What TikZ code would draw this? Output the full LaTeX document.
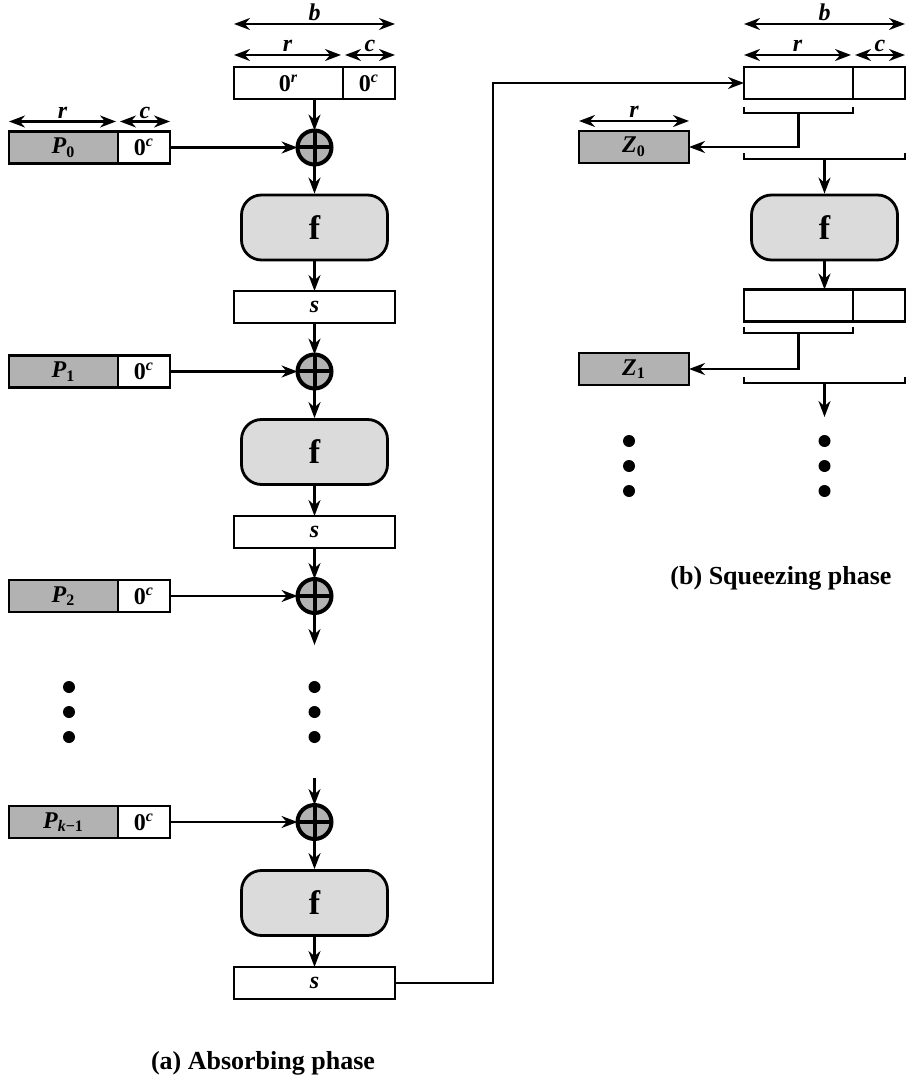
\documentclass[tikz,border=0pt]{standalone}
\usepackage{fontspec}
\setmainfont{Liberation Serif}
\usepackage{tikz}
\usetikzlibrary{arrows.meta,positioning}

\begin{document}
\begin{tikzpicture}[
  x=0.5pt,y=-0.5pt,
  >={Stealth[length=8pt,width=6pt]},line width=1.15pt,
  cell/.style={draw,line width=1.4pt,outer sep=0pt,inner sep=0pt,minimum height=16pt,font=\fontsize{12}{14}\selectfont\bfseries},
  msg/.style={cell,fill=black!30},
  rw/.style={minimum width=54.5pt},
  cw/.style={minimum width=26pt},
  sw/.style={minimum width=80.5pt},
  fbox/.style={draw,line width=1.4pt,rounded corners=10pt,fill=black!14,minimum width=73pt,minimum height=32.5pt,font=\fontsize{17}{20}\selectfont\bfseries},
  xor/.style={draw,circle,line width=2pt,outer sep=0pt,fill=black!30,minimum size=17pt,inner sep=0pt},
  dim/.style={<->,line width=1.1pt},
  lbl/.style={above,inner sep=1pt,font=\fontsize{12}{14}\selectfont\bfseries\itshape},
  dot/.style={circle,fill,inner sep=0pt,minimum size=6pt},
  caption/.style={font=\fontsize{13}{15}\selectfont\bfseries}]
\useasboundingbox (0,0) rectangle (914,1079);

\node[cell,rw] (ra) at (288.5,83) {0\textsuperscript{\itshape r}};
\node[cell,cw,right=0pt of ra] (ca) {0\textsuperscript{\itshape c}};
\draw[dim] ([yshift=21.5pt]ra.north west) -- node[lbl]{b} ([yshift=21.5pt]ca.north east);
\draw[dim] ([yshift=6pt]ra.north west) -- node[lbl]{r} ([xshift=-1pt,yshift=6pt]ra.north east);
\draw[dim] ([xshift=1pt,yshift=6pt]ca.north west) -- node[lbl]{c} ([yshift=6pt]ca.north east);

\node[msg,rw] (p0) at (63.5,147.5) {\textit{P}\textsubscript{0}};
\node[cell,cw,right=0pt of p0] (q0) {0\textsuperscript{\itshape c}};
\draw[dim] ([yshift=5pt]p0.north west) -- node[lbl]{r} ([xshift=-1pt,yshift=5pt]p0.north east);
\draw[dim] ([xshift=1pt,yshift=5pt]q0.north west) -- node[lbl]{c} ([yshift=5pt]q0.north east);
\node[xor] (x0) at (314.5,147.5) {};
\draw[line width=2pt] (x0.north)--(x0.south) (x0.west)--(x0.east);
\node[fbox] (f0) at (314.5,227.5) {f};
\node[cell,sw] (s0) at (314.5,307) {\itshape s};
\draw[->] (x0 |- ra.south) -- (x0.north);
\draw[->] (q0) -- (x0);
\draw[->] (x0) -- (f0);
\draw[->] (f0) -- (s0);

\node[msg,rw] (p1) at (63.5,371.5) {\textit{P}\textsubscript{1}};
\node[cell,cw,right=0pt of p1] (q1) {0\textsuperscript{\itshape c}};
\node[xor] (x1) at (314.5,371.5) {};
\draw[line width=2pt] (x1.north)--(x1.south) (x1.west)--(x1.east);
\node[fbox] (f1) at (314.5,452) {f};
\node[cell,sw] (s1) at (314.5,532) {\itshape s};
\draw[->] (s0) -- (x1);
\draw[->] (q1) -- (x1);
\draw[->] (x1) -- (f1);
\draw[->] (f1) -- (s1);

\node[msg,rw] (p2) at (63.5,596) {\textit{P}\textsubscript{2}};
\node[cell,cw,right=0pt of p2] (q2) {0\textsuperscript{\itshape c}};
\node[xor] (x2) at (314.5,596) {};
\draw[line width=2pt] (x2.north)--(x2.south) (x2.west)--(x2.east);
\coordinate (e2) at (314.5,645);
\draw[->] (s1) -- (x2);
\draw[->] (q2) -- (x2);
\draw[->] (x2) -- (e2);

\node[dot] at (69,687) {};
\node[dot] at (69,712) {};
\node[dot] at (69,737) {};
\node[dot] at (314.5,687) {};
\node[dot] at (314.5,712) {};
\node[dot] at (314.5,737) {};

\node[msg,rw] (pk) at (63.5,822) {\textit{P}\textsubscript{\textit{k}−1}};
\node[cell,cw,right=0pt of pk] (qk) {0\textsuperscript{\itshape c}};
\node[xor] (x3) at (314.5,822) {};
\draw[line width=2pt] (x3.north)--(x3.south) (x3.west)--(x3.east);
\node[fbox] (f2) at (314.5,903) {f};
\node[cell,sw] (s2) at (314.5,983) {\itshape s};
\coordinate (e3) at (314.5,778);
\draw[->] (e3) -- (x3);
\draw[->] (qk) -- (x3);
\draw[->] (x3) -- (f2);
\draw[->] (f2) -- (s2);

\node[caption] at (263,1063) {(a) Absorbing phase};

\node[cell,rw] (rb) at (798.5,83) {};
\node[cell,cw,right=0pt of rb] (cb) {};
\draw[dim] ([yshift=21.5pt]rb.north west) -- node[lbl]{b} ([yshift=21.5pt]cb.north east);
\draw[dim] ([yshift=6pt]rb.north west) -- node[lbl]{r} ([xshift=-1pt,yshift=6pt]rb.north east);
\draw[dim] ([xshift=1pt,yshift=6pt]cb.north west) -- node[lbl]{c} ([yshift=6pt]cb.north east);
\draw[->] (s2.east) -- ++(98,0) |- (rb.west);

\node[msg,minimum width=55pt] (z0) at (634,147) {\textit{Z}\textsubscript{0}};
\draw[dim] ([yshift=5pt]z0.north west) -- node[lbl]{r} ([yshift=5pt]z0.north east);
\draw[line width=1.4pt] (744,107) |- (853,113) -- (853,107);
\coordinate (j0) at (798.5,113);
\draw[->] (j0) |- (z0);
\draw[line width=1.4pt] (744,153) |- (905,159) -- (905,153);
\coordinate (k0) at (824.5,159);
\node[fbox] (g0) at (824.5,227.5) {f};
\draw[->] (k0) -- (g0);

\node[cell,rw] (rc) at (798.5,305.5) {};
\node[cell,cw,right=0pt of rc] (cc) {};
\draw[->] (g0) -- (g0 |- rc.north);
\node[msg,minimum width=55pt] (z1) at (634,369) {\textit{Z}\textsubscript{1}};
\draw[line width=1.4pt] (744,327) |- (853,333) -- (853,327);
\coordinate (j1) at (798.5,333);
\draw[->] (j1) |- (z1);
\draw[line width=1.4pt] (744,377) |- (905,383) -- (905,377);
\coordinate (k1) at (824.5,383);
\coordinate (k2) at (824.5,417);
\draw[->] (k1) -- (k2);

\node[dot] at (629,441) {};
\node[dot] at (629,466) {};
\node[dot] at (629,491) {};
\node[dot] at (824.5,441) {};
\node[dot] at (824.5,466) {};
\node[dot] at (824.5,491) {};

\node[caption] at (781,578) {(b) Squeezing phase};
\end{tikzpicture}
\end{document}
